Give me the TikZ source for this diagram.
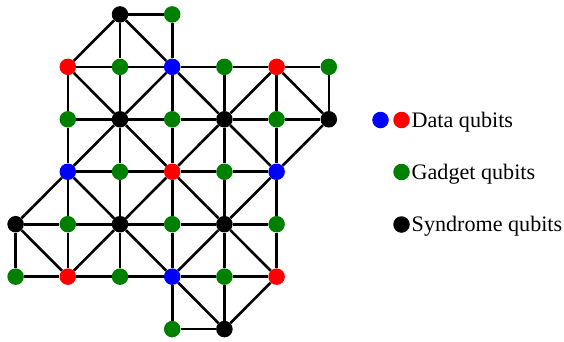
\documentclass[tikz,border=0pt]{standalone}
\usepackage{fontspec}
\setmainfont{Liberation Serif}
\definecolor{qblue}{RGB}{0,0,255}
\definecolor{qred}{RGB}{255,0,0}
\definecolor{qgreen}{RGB}{0,128,0}
\begin{document}
\begin{tikzpicture}[x=1bp,y=-1bp,
  qubit/.style={circle,inner sep=0pt,minimum size=16.5bp},
  dataA/.style={qubit,fill=qblue},
  dataB/.style={qubit,fill=qred},
  gadget/.style={qubit,fill=qgreen},
  syndrome/.style={qubit,fill=black},
  link/.style={line width=2.6bp},
  legendtext/.style={anchor=base west,inner sep=0pt,font=\fontsize{22.2}{25}\selectfont}]
\useasboundingbox (0,0) rectangle (564,341);

% lattice positions
\foreach \i in {0,...,6}
  \foreach \j in {0,...,6}
    \coordinate (g\i\j) at ({15.6+52.2*\i},{14.4+52.45*\j});

% qubits
\foreach \p in {20,22,42,62,04,24,44,46}
  \node[syndrome] (q\p) at (g\p) {};
\foreach \p in {30,21,41,61,12,32,52,23,43,14,34,54,05,25,45,36}
  \node[gadget] (q\p) at (g\p) {};
\foreach \p in {31,13,53,35}
  \node[dataA] (q\p) at (g\p) {};
\foreach \p in {11,51,33,15,55}
  \node[dataB] (q\p) at (g\p) {};

% couplings
\foreach \a/\b in {
  20/30, 11/21, 21/31, 31/41, 41/51, 51/61,
  12/22, 22/32, 32/42, 42/52, 52/62,
  13/23, 23/33, 33/43, 43/53,
  04/14, 14/24, 24/34, 34/44, 44/54,
  05/15, 15/25, 25/35, 35/45, 45/55, 36/46,
  04/05, 11/12, 12/13, 13/14, 14/15,
  20/21, 21/22, 22/23, 23/24, 24/25,
  30/31, 31/32, 32/33, 33/34, 34/35, 35/36,
  41/42, 42/43, 43/44, 44/45, 45/46,
  51/52, 52/53, 53/54, 54/55, 61/62,
  20/11, 20/31, 22/11, 22/31, 22/13, 22/33,
  42/31, 42/51, 42/33, 42/53, 62/51, 62/53,
  04/13, 04/15, 24/13, 24/33, 24/15, 24/35,
  44/33, 44/53, 44/35, 44/55, 46/35, 46/55}
  \draw[link] (q\a) -- (q\b);

% legend
\node[dataA] (lblue) at (380.5,120) {};
\node[dataB] (lred) at (401.5,120) {};
\node[gadget] (lgreen) at (401.5,172) {};
\node[syndrome] (lblack) at (401.5,224.5) {};
\node[legendtext] (tdata) at (411.5,127) {Data qubits};
\node[legendtext] (tgadget) at (411.5,179.5) {Gadget qubits};
\node[legendtext] (tsyn) at (411.5,231.5) {Syndrome qubits};
\end{tikzpicture}
\end{document}
